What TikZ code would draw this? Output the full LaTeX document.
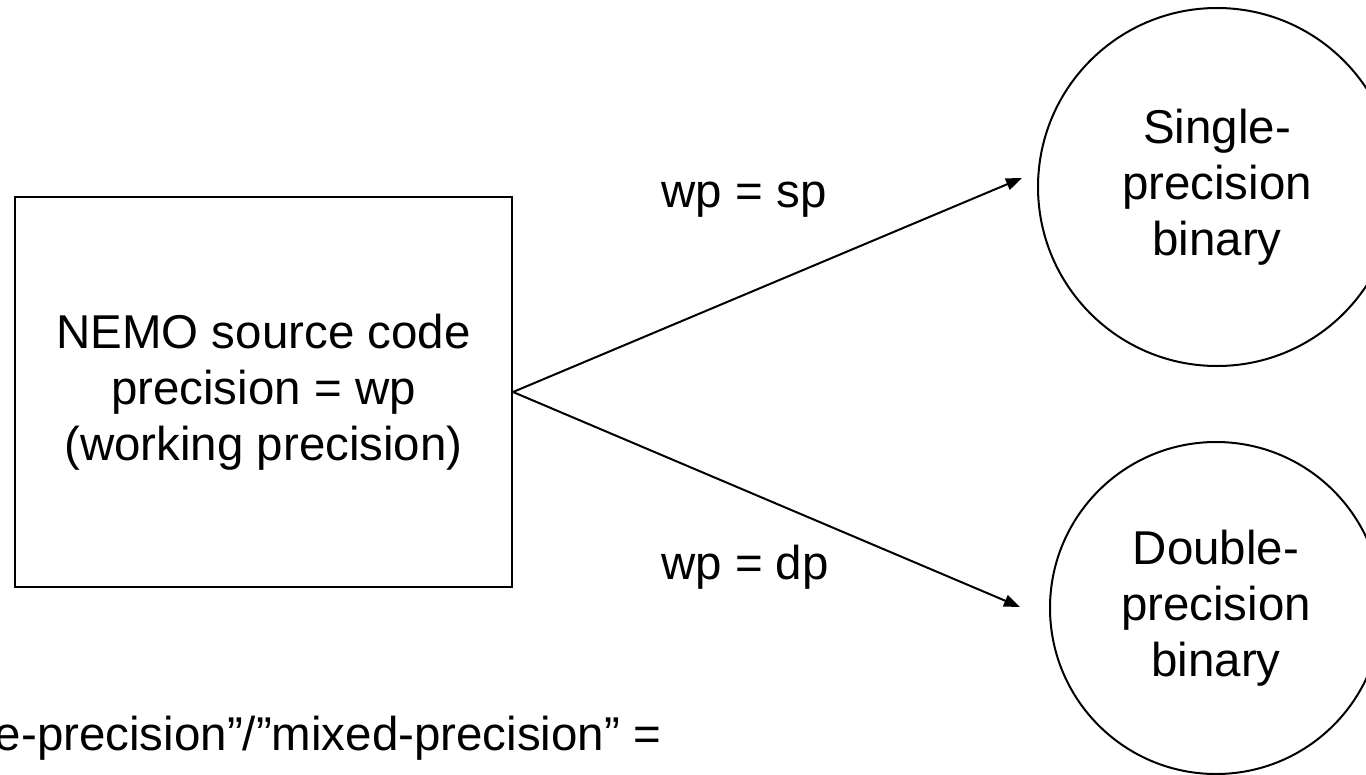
\documentclass[tikz,border=0pt]{standalone}
\usepackage{fontspec}
\setmainfont{Liberation Sans}
\usetikzlibrary{arrows.meta}

\tikzset{
  big/.style={font=\fontsize{35.6}{42}\selectfont, align=center, inner sep=0pt},
  srcbox/.style={big, draw, minimum width=372.75pt, minimum height=292.5pt},
  binball/.style={big, draw, circle},
  flow/.style={-{Triangle[length=12pt,width=9pt]}}
}

\begin{document}
\begin{tikzpicture}[x=0.75pt,y=-0.75pt,line width=1.5pt]
        \useasboundingbox (0,0) rectangle (1366,774);
        \clip (0,0) rectangle (1366,774);

        \node[srcbox] (src) at (263.5,392) {NEMO source code\\precision = wp\\(working precision)};
        \node[binball, minimum size=268.5pt] (sgl) at (1217,187) {Single-\\precision\\binary};
        \node[binball, minimum size=249pt] (dbl) at (1216,608) {Double-\\precision\\binary};

        \coordinate (sptip) at (1022,178);
        \coordinate (dptip) at (1020,607);
        \draw[flow] (src.east) -- (sptip);
        \draw[flow] (src.east) -- (dptip);

        \node[big] (splbl) at (744,200) {wp = sp};
        \node[big] (dplbl) at (745,567) {wp = dp};
        \node[big, anchor=east] (note) at (662,738) {e-precision”/”mixed-precision” =};
      \end{tikzpicture}
\end{document}
